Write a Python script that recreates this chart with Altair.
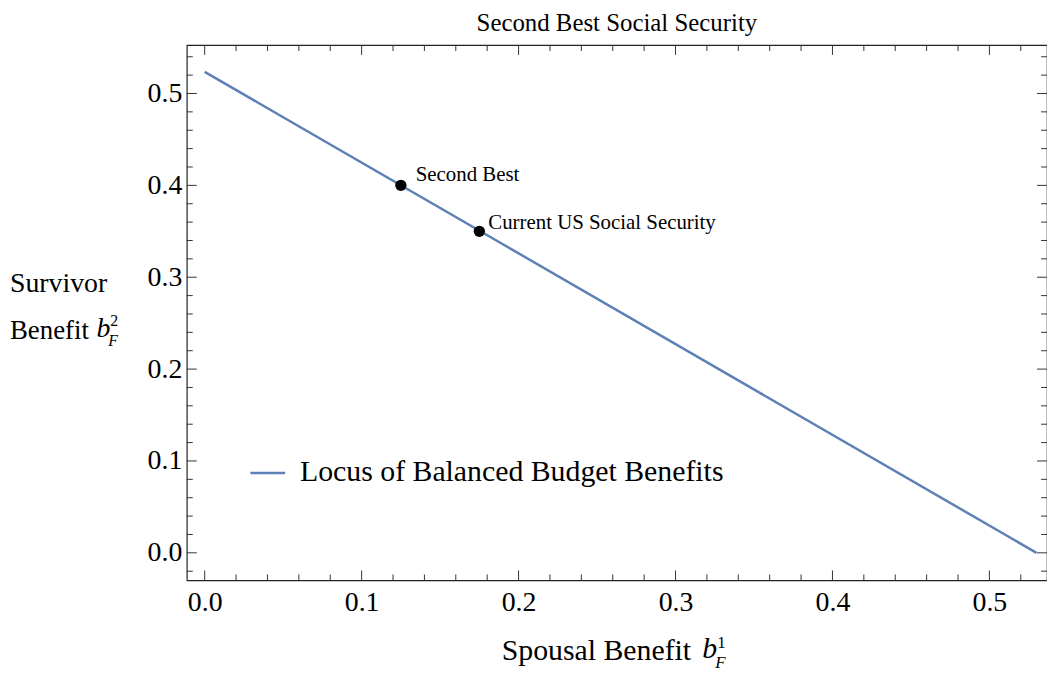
import altair as alt
import pandas as pd

# ---- data ----
line_x = [0.0, 0.53]
line_y = [0.5236, 0.0]
pt_names = ["Second Best", "Current US Social Security"]
pt_x = [0.125, 0.175]
pt_y = [0.40, 0.35]
x_major = [0.0, 0.1, 0.2, 0.3, 0.4, 0.5]
x_minor = [0.02, 0.04, 0.06, 0.08, 0.12, 0.14, 0.16, 0.18, 0.22, 0.24, 0.26, 0.28,
           0.32, 0.34, 0.36, 0.38, 0.42, 0.44, 0.46, 0.48, 0.52]
y_major = [0.0, 0.1, 0.2, 0.3, 0.4, 0.5]
y_minor = [-0.02, 0.02, 0.04, 0.06, 0.08, 0.12, 0.14, 0.16, 0.18, 0.22, 0.24, 0.26, 0.28,
           0.32, 0.34, 0.36, 0.38, 0.42, 0.44, 0.46, 0.48, 0.52, 0.54]

FONT = "Liberation Serif"
W, H = 866, 539
XDOM = [-0.0114, 0.5367]
YDOM = [-0.03, 0.5528]
BLUE = "#5E81B5"
TICK = "#333333"

xs = alt.Scale(domain=XDOM, nice=False, zero=False)
ys = alt.Scale(domain=YDOM, nice=False, zero=False)

line_df = pd.DataFrame({"x": line_x, "y": line_y})
pt_df = pd.DataFrame({"name": pt_names, "x": pt_x, "y": pt_y})
xmaj_df = pd.DataFrame({"v": x_major})
xmin_df = pd.DataFrame({"v": x_minor})
ymaj_df = pd.DataFrame({"v": y_major})
ymin_df = pd.DataFrame({"v": y_minor})

base_x_axis = alt.Axis(values=x_major, format=".1f", ticks=False, domain=False, grid=False,
                       labelFont=FONT, labelFontSize=28, labelColor="black", labelPadding=8,
                       title=None)
base_y_axis = alt.Axis(values=y_major, format=".1f", ticks=False, domain=False, grid=False,
                       labelFont=FONT, labelFontSize=28, labelColor="black", labelPadding=5,
                       title=None)

line = alt.Chart(line_df).mark_line(color=BLUE, strokeWidth=2.5).encode(
    x=alt.X("x:Q", scale=xs, axis=base_x_axis),
    y=alt.Y("y:Q", scale=ys, axis=base_y_axis),
)

pts = alt.Chart(pt_df).mark_point(filled=True, color="black", size=130, opacity=1).encode(
    x=alt.X("x:Q", scale=xs), y=alt.Y("y:Q", scale=ys)
)

lab1 = alt.Chart(pt_df.iloc[[0]]).mark_text(font=FONT, fontSize=21, align="left",
                                            baseline="middle", dx=15, dy=-10).encode(
    x=alt.X("x:Q", scale=xs), y=alt.Y("y:Q", scale=ys), text="name:N")
lab2 = alt.Chart(pt_df.iloc[[1]]).mark_text(font=FONT, fontSize=21, align="left",
                                            baseline="middle", dx=9, dy=-8).encode(
    x=alt.X("x:Q", scale=xs), y=alt.Y("y:Q", scale=ys), text="name:N")

def xticks(df, L):
    bot = alt.Chart(df).mark_rule(color=TICK, strokeWidth=1).encode(
        x=alt.X("v:Q", scale=xs), y=alt.value(H), y2=alt.value(H - L))
    top = alt.Chart(df).mark_rule(color=TICK, strokeWidth=1).encode(
        x=alt.X("v:Q", scale=xs), y=alt.value(0), y2=alt.value(L))
    return [bot, top]

def yticks(df, L):
    left = alt.Chart(df).mark_rule(color=TICK, strokeWidth=1).encode(
        y=alt.Y("v:Q", scale=ys), x=alt.value(0), x2=alt.value(L))
    right = alt.Chart(df).mark_rule(color=TICK, strokeWidth=1).encode(
        y=alt.Y("v:Q", scale=ys), x=alt.value(W), x2=alt.value(W - L))
    return [left, right]

tick_layers = xticks(xmaj_df, 10) + xticks(xmin_df, 6) + yticks(ymaj_df, 10) + yticks(ymin_df, 6)

def txt(s, x, y, size, align="left", italic=False, baseline="middle"):
    return alt.Chart(pd.DataFrame({"t": [s]})).mark_text(
        font=FONT, fontSize=size, align=align, baseline=baseline,
        fontStyle="italic" if italic else "normal", color="black").encode(
        x=alt.value(x), y=alt.value(y), text="t:N")

OX, OY = 188, 43
texts = [
    txt("Second Best Social Security", 621 - OX, 21 - OY, 25, align="center"),
    # x-axis title
    txt("Spousal Benefit", 505 - OX, 653 - OY, 30),
    txt("b", 707 - OX, 651 - OY, 30, italic=True),
    txt("1", 722 - OX, 645 - OY, 17),
    txt("F", 720 - OX, 665 - OY, 17, italic=True),
    # y-axis title
    txt("Survivor", 10 - OX, 284 - OY, 28),
    txt("Benefit", 10 - OX, 331 - OY, 27),
    txt("b", 97 - OX, 329 - OY, 28, italic=True),
    txt("2", 111 - OX, 321 - OY, 16),
    txt("F", 109 - OX, 341 - OY, 16, italic=True),
    # legend
    txt("Locus of Balanced Budget Benefits", 302 - OX, 473 - OY, 30),
]
legend_line = alt.Chart(pd.DataFrame({"a": [0]})).mark_rule(color=BLUE, strokeWidth=2.5).encode(
    x=alt.value(252 - OX), x2=alt.value(287 - OX), y=alt.value(474 - OY))

chart = alt.layer(line, *tick_layers, pts, lab1, lab2, legend_line, *texts).properties(
    width=W, height=H,
    autosize=alt.AutoSizeParams(type="none"),
    padding={"left": 180, "top": 35, "right": 0, "bottom": 92},
).configure(background="white").configure_view(stroke="#222222", strokeWidth=1.2)

chart.save("out.html", embed_options={"renderer": "svg", "actions": False})
